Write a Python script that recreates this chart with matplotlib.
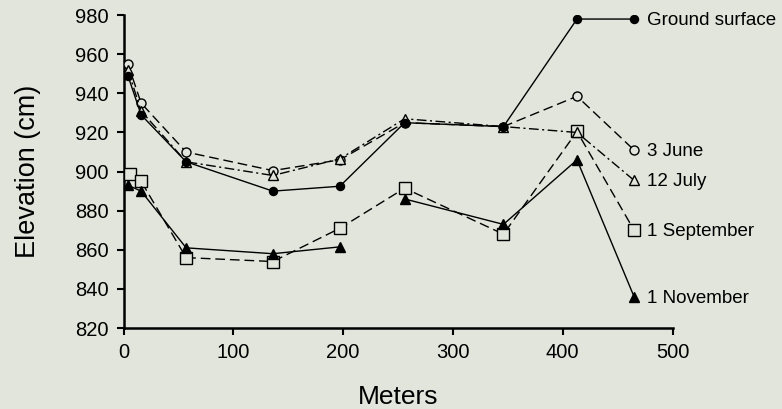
import matplotlib
matplotlib.use("Agg")
import matplotlib.pyplot as plt
import numpy as np

plt.rcParams['font.family'] = ['Liberation Sans', 'DejaVu Sans']

meters = [4, 16, 57, 136, 197, 256, 346, 413, 465]
ground = [949, 929, 905, 890, 892.5, 925, 923, 978, 978]
june3 = [955, 935, 910, 900.5, 906, 925, 923, 938.5, 911]
july12 = [952, 931, 905, 898, 906.5, 927, 923, 920, 895.5]
sept_x = [6, 16, 57, 136, 197, 256, 346, 413, 465]
sept1 = [899, 895, 856, 854, 871, 891.5, 868, 920.5, 870]
nov1 = [893, 890, 861, 858, 861.5, 886, 873, 906, 836]

labels = ["Ground surface", "3 June", "12 July", "1 September", "1 November"]
xticks = [0, 100, 200, 300, 400, 500]
yticks = [820, 840, 860, 880, 900, 920, 940, 960, 980]

bg = '#e2e5dc'
fig = plt.figure(figsize=(7.82, 4.09), dpi=100, facecolor=bg)
ax = fig.add_axes([0.158, 0.198, 0.702, 0.765], facecolor=bg)

lw = 1.0
ax.plot(meters, ground, '-', color='black', lw=lw, marker='o', ms=5.8,
        mfc='black', mec='black', zorder=5)
ax.plot(meters, june3, color='black', lw=lw, ls=(0, (7, 3.5)), marker='o', ms=6.5,
        mfc=bg, mec='black', mew=1.0, zorder=4)
ax.plot(meters, july12, color='black', lw=lw, ls=(0, (7, 2.5, 1.5, 2.5)), marker='^', ms=7.5,
        mfc=bg, mec='black', mew=1.0, zorder=4)
ax.plot(sept_x, sept1, color='black', lw=lw, ls=(0, (7, 3.5)), marker='s', ms=8,
        mfc=bg, mec='black', mew=1.0, zorder=3)
ax.plot(meters[:5], nov1[:5], '-', color='black', lw=lw, marker='^', ms=7.5,
        mfc='black', mec='black', zorder=3)
ax.plot(meters[5:], nov1[5:], '-', color='black', lw=lw, marker='^', ms=7.5,
        mfc='black', mec='black', zorder=3)

finals = [ground[-1], june3[-1], july12[-1], sept1[-1], nov1[-1]]
for lab, v in zip(labels, finals):
    ax.annotate(lab, xy=(meters[-1], v), xytext=(9, -1), textcoords='offset points',
                ha='left', va='center', fontsize=13.5, annotation_clip=False)

ax.set_xlim(0, 500)
ax.set_ylim(820, 980)
ax.set_xticks(xticks)
ax.set_yticks(yticks)
for s in ['top', 'right']:
    ax.spines[s].set_visible(False)
for s in ['left', 'bottom']:
    ax.spines[s].set_linewidth(1.8)
ax.tick_params(direction='out', length=5, width=1.5, labelsize=14.5, pad=6)
ax.set_xlabel('Meters', fontsize=19, labelpad=16)
ax.set_ylabel('Elevation (cm)', fontsize=19.5, labelpad=24)

fig.savefig('out.png', dpi=100, facecolor=bg)
